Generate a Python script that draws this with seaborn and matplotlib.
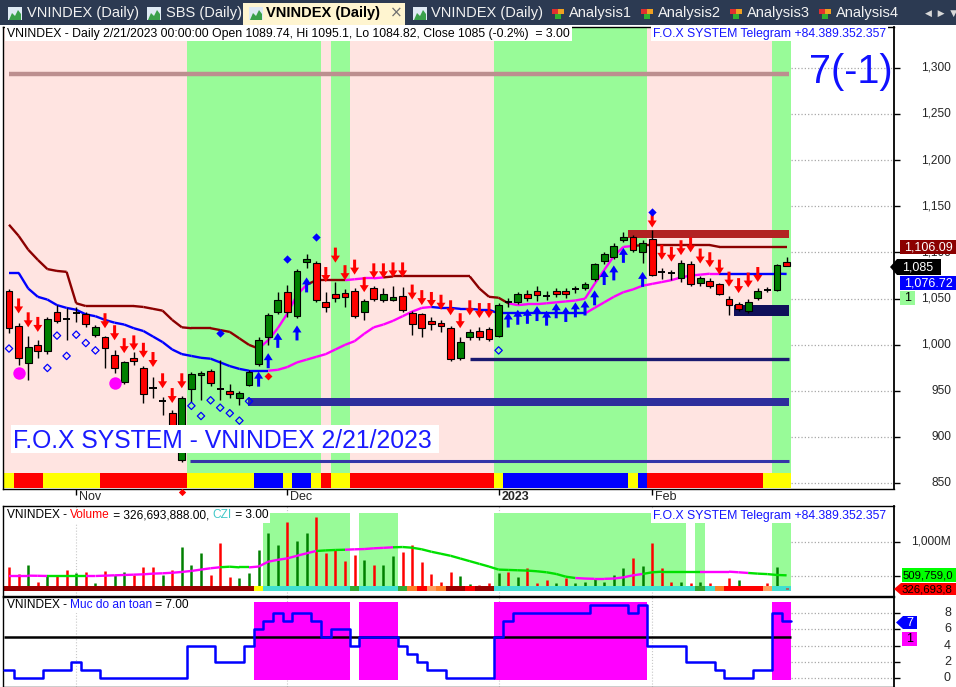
import numpy as np
import pandas as pd
import matplotlib
matplotlib.use("Agg")
import matplotlib.pyplot as plt
import seaborn as sns
from matplotlib.patches import Rectangle, Polygon

# ---- values (82 daily bars, 21 Oct 2022 -> 21 Feb 2023) ----
opens = [1058, 1020, 980, 1000, 993, 1036, 1029, 1035, 1033, 1011,
         1008, 989, 960, 986, 975, 954, 940, 926, 875, 952,
         967, 972, 953, 950, 943, 957, 979, 1009, 1036, 1057,
         1031, 1090, 1089, 1046, 1055, 1056, 1058, 1036, 1062, 1049,
         1049, 1053, 1035, 1033, 1026, 1024, 1018, 986, 1008, 1015,
         1017, 1010, 1046, 1046, 1055, 1058, 1053, 1058, 1058, 1060,
         1062, 1071, 1091, 1095, 1114, 1117, 1100, 1115, 1079, 1078,
         1072, 1087, 1067, 1069, 1066, 1050, 1044, 1037, 1051, 1059,
         1059, 1089.74]
highs = [1060, 1024, 1010, 1005, 1030, 1043, 1040, 1041, 1036, 1021,
         1010, 994, 983, 992, 977, 965, 944, 930, 945, 971,
         972, 974, 984, 958, 950, 973, 1008, 1035, 1057, 1065,
         1082, 1098, 1091, 1057, 1068, 1060, 1061, 1050, 1064, 1062,
         1064, 1063, 1037, 1035, 1030, 1027, 1020, 1008, 1017, 1019,
         1019, 1045, 1051, 1057, 1059, 1064, 1058, 1062, 1061, 1064,
         1068, 1089, 1101, 1110, 1122, 1119, 1113, 1124, 1083, 1081,
         1092, 1091, 1075, 1072, 1067, 1053, 1046, 1050, 1061, 1063,
         1087, 1095.1]
lows = [1013, 978, 962, 986, 990, 1024, 1005, 1025, 1019, 1009,
        975, 970, 958, 978, 937, 943, 924, 898, 873, 938,
        940, 956, 940, 942, 935, 955, 977, 1000, 1033, 1030,
        1029, 1083, 1046, 1036, 1046, 1041, 1029, 1027, 1047, 1046,
        1047, 1036, 1011, 1008, 1016, 1014, 983, 984, 1005, 1005,
        1004, 1008, 1041, 1044, 1048, 1048, 1049, 1052, 1051, 1056,
        1059, 1069, 1088, 1093, 1111, 1101, 1089, 1074, 1071, 1070,
        1068, 1064, 1064, 1062, 1054, 1032, 1037, 1035, 1049, 1057,
        1058, 1084.82]
closes = [1018, 986, 998, 993, 1028, 1026, 1028, 1034, 1023, 1019,
          997, 975, 981, 983, 947, 953, 939, 902, 942, 968,
          970, 959, 952, 947, 948, 971, 1005, 1032, 1049, 1036,
          1080, 1093, 1049, 1041, 1051, 1052, 1031, 1048, 1050, 1055,
          1052, 1038, 1023, 1018, 1023, 1020, 985, 1003, 1014, 1008,
          1006, 1043, 1047, 1055, 1051, 1054, 1053, 1055, 1055, 1061,
          1066, 1088, 1098, 1107, 1117, 1103, 1110, 1076, 1078, 1077,
          1089, 1066, 1072, 1064, 1055, 1043, 1039, 1046, 1058, 1060,
          1086, 1085]

# upper trailing line (M = maroon, P = magenta) and lower trailing line (B = blue)
line_up = [1130, 1118, 1103, 1092, 1082, 1080, 1079, 1045, 1042, 1042,
           1042, 1042, 1042, 1042, 1041, 1039, 1037, 1027, 1019, 1018,
           1018, 1018, 1016, 1014, 1007, 1000, 996, 1005, 1018, 1034,
           1054, 1065, 1070, 1070, 1070, 1070, 1071, 1072, 1072, 1073,
           1074, 1074, 1074, 1074, 1074, 1074, 1074, 1074, 1074, 1061,
           1052, 1051, 1045, 1043, 1044, 1044, 1045, 1046, 1047, 1048,
           1050, 1066, 1081, 1096, 1106, 1107, 1108, 1108, 1108, 1108,
           1108, 1108, 1108, 1108, 1106, 1106, 1106, 1106, 1106, 1106,
           1106, 1106]
line_up_state = "M" * 27 + "P" * 5 + "M" * 4 + "P" * 4 + "M" * 13 + "P" * 13 + "M" * 16
line_dn = [1078, 1078, 1061, 1052, 1049, 1043, 1040, 1038, 1033, 1031,
           1027, 1024, 1022, 1018, 1015, 1009, 1003, 995, 990, 988,
           986, 985, 981, 977, 974, 972, 972, 972, 973, 976,
           981, 984, 987, 990, 995, 1000, 1004, 1012, 1019, 1022,
           1026, 1031, 1036, 1040, 1041, 1040, 1040, 1039, 1039, 1038,
           1038, 1034, 1034, 1034, 1034, 1034, 1034, 1034, 1034, 1034,
           1034, 1040, 1046, 1052, 1057, 1060, 1064, 1066, 1068, 1070,
           1073, 1075, 1076, 1077, 1077, 1077, 1077, 1077, 1077, 1077,
           1077, 1076.72]
line_dn_state = "B" * 28 + "P" * 17 + "B" * 16 + "P" * 14 + "B" * 7

zone_state = "P" * 19 + "G" * 14 + "P" + "G" * 2 + "P" * 15 + "G" * 16 + "P" * 13 + "G" * 2
band_state = ("Y" + "R" * 3 + "Y" * 6 + "R" * 9 + "Y" * 7 + "B" * 3 + "Y" + "B" * 2 + "Y" + "R"
              + "Y" * 2 + "R" * 15 + "Y" + "B" * 13 + "Y" + "B" + "R" * 12 + "Y" * 3)

sell_bars = [1, 2, 3, 10, 11, 12, 13, 14, 15, 16, 17, 18,
             33, 34, 35, 36, 37, 38, 39, 40, 41, 42, 43, 44, 45, 46, 47, 48, 49, 50,
             67, 68, 69, 70, 71, 72, 73, 74, 75, 76, 77, 78]
sell_tips = [1034, 1019, 1014, 1018, 1005, 991, 994, 986, 976, 953, 937, 953,
             1068, 1089, 1070, 1076, 1057, 1072, 1072, 1073, 1073, 1049, 1043, 1041, 1038, 1032,
             1018, 1032, 1029, 1029,
             1127, 1092, 1090, 1097, 1100, 1088, 1084, 1076, 1063, 1056, 1062, 1068]
buy_bars = [26, 27, 28, 30, 31, 52, 53, 54, 55, 56, 57, 58, 59, 60, 61, 62, 63, 64, 66]
buy_tips = [971, 991, 1013, 1021, 1073, 1035, 1038, 1039, 1042, 1037, 1045, 1041, 1046, 1048,
            1059, 1081, 1086, 1105, 1079]
dot_bars, dot_vals = [22, 29, 32, 67], [1013, 1093, 1117, 1144]
red_dot_bars, red_dot_vals = [27], [966]
ring_bars = [0, 4, 5, 6, 7, 8, 9, 19, 20, 21, 22, 23, 24, 25, 51]
ring_vals = [996, 975, 1010, 988, 1011, 1002, 994, 934, 923, 940, 932, 926, 918, 939, 994]
ball_bars, ball_vals = [1, 11], [970, 959]

top_level = 1293
resist_zone = (1115.5, 1124)
support_zone = (1031, 1043)
support_line = 985
support_band = (934, 942.5)
bottom_line = 874.4

month_bars = [7, 29, 51, 67]
month_labels = ["Nov", "Dec", "2023", "Feb"]

# volume panel (millions)
volume = [638, 530, 663, 416, 504, 515, 589, 540, 564, 391,
          574, 515, 564, 515, 638, 638, 515, 589, 935, 663,
          846, 515, 985, 490, 475, 549, 886, 1134, 960, 1300,
          1019, 1134, 1375, 837, 886, 727, 812, 737, 663, 663,
          797, 861, 960, 712, 530, 416, 564, 500, 381, 366,
          391, 540, 564, 481, 614, 391, 441, 391, 466, 391,
          406, 455, 406, 515, 614, 762, 648, 994, 614, 416,
          406, 391, 416, 391, 342, 475, 441, 342, 342, 391,
          638, 326.7]
volume_dir = ("RRGRGRRGRGRGGRRRGRGG" "GRRRGGGGGRGGRRRRRGRG"
              "GRRRRRRGGRRGRGRRRGRG" "GGGGGRGRRRGRGRRRGRGR" "GR")
volume_ma = [505, 505, 505, 503, 500, 500, 500, 500, 500, 500,
             505, 510, 515, 520, 525, 535, 540, 548, 560, 575,
             595, 615, 630, 638, 628, 628, 640, 712, 740, 762,
             800, 837, 871, 880, 886, 890, 896, 900, 911, 918,
             926, 930, 920, 896, 860, 830, 800, 760, 720, 680,
             640, 595, 590, 585, 580, 570, 555, 530, 490, 470,
             462, 458, 458, 462, 480, 510, 530, 555, 564, 564,
             564, 564, 564, 564, 564, 564, 555, 545, 535, 528,
             515, 509.76]
volume_ma_state = "P" * 5 + "G" * 4 + "P" * 14 + "G" * 3 + "P" * 7 + "G" * 3 + "P" * 5 + "G" * 19 + "P" * 7 + "G" * 6 + "P" * 5 + "G" * 4
czi_state = ("D" * 26 + "Y" + "C" * 9 + "G" + "C" * 4 + "G" + "O" + "R" + "L" + "O" + "D" * 2 + "R"
             + "D" * 2 + "C" * 21 + "G" + "C" + "O" + "R" * 4 + "L" + "C" * 2)
vol_zone = [27, 28, 29, 30, 31, 32, 33, 34, 35, 37, 38, 39, 40] + list(range(51, 71)) + [72, 80, 81]

# safety level panel ("Muc do an toan")
safety = [1, 0, 0, 0, 1, 1, 1, 2, 1, 1,
          0, 0, 0, 0, 0, 0, 0, 0, 0, 4,
          4, 4, 2, 2, 2, 4, 6, 7, 8, 7,
          8, 8, 7, 5, 6, 6, 4, 5, 5, 5,
          5, 4, 3, 2, 1, 1, 0, 0, 0, 0,
          0, 5, 7, 8, 8, 8, 8, 8, 8, 8,
          8, 9, 9, 9, 9, 8, 9, 4, 4, 4,
          4, 2, 2, 2, 1, 0, 0, 0, 1, 1,
          8, 7]
safe_zone = list(range(26, 36)) + [37, 38, 39, 40] + list(range(51, 67)) + [80, 81]

n = len(closes)
bars = np.arange(n)

# ---- figure ----
sns.set_style("white")
plt.rcParams['font.family'] = ['Liberation Sans', 'DejaVu Sans']

W, H = 956, 687
fig = plt.figure(figsize=(W / 100, H / 100), dpi=100)
renderer = fig.canvas.get_renderer()


def fx(x):
    return x / W


def fy(y):
    return 1 - y / H


def frect(x0, y0, x1, y1, color, z=3):
    fig.add_artist(Rectangle((fx(x0), fy(y1)), (x1 - x0) / W, (y1 - y0) / H, transform=fig.transFigure,
                             facecolor=color, edgecolor='none', zorder=z))


def ftag(xtip, x1, y0, y1, color, z=6):
    ym = (y0 + y1) / 2
    pts = [(xtip, ym), (xtip + 7, y0), (x1, y0), (x1, y1), (xtip + 7, y1)]
    fig.add_artist(Polygon([(fx(a), fy(b)) for a, b in pts], closed=True, transform=fig.transFigure,
                           facecolor=color, edgecolor='none', zorder=z))


def ftext(x, y, s, **kw):
    kw.setdefault('va', 'center')
    kw.setdefault('zorder', 7)
    return fig.text(fx(x), fy(y), s, **kw)


def text_w(s, size, weight='normal'):
    t = fig.text(0, 0, '|' + s + '|', fontsize=size, fontweight=weight)
    w1 = t.get_window_extent(renderer).width
    t.set_text('||')
    w0 = t.get_window_extent(renderer).width
    t.remove()
    return w1 - w0


def header(x, y, parts, size=8.8):
    total = text_w(''.join(p for p, _ in parts), size)
    frect(x - 2, y - 7, x + total + 2, y + 7, 'white', z=3)
    for s, c in parts:
        ftext(x, y, s, color=c, fontsize=size, ha='left', zorder=4)
        x += text_w(s, size)


def runs(flags):
    out, start = [], 0
    for i in range(1, len(flags) + 1):
        if i == len(flags) or flags[i] != flags[start]:
            out.append((start, i - 1, flags[start]))
            start = i
    return out


XL = (-0.625, 92.1875)
ax = fig.add_axes([fx(3), fy(489), 891 / W, 462 / H])
axv = fig.add_axes([fx(3), fy(596), 891 / W, 90 / H])
axb = fig.add_axes([fx(3), 0, 891 / W, 90 / H])
for a in (ax, axv, axb):
    a.set_xlim(XL)
    a.set_facecolor('white')
    for sp in a.spines.values():
        sp.set_color('black')
        sp.set_linewidth(1)
    a.spines['right'].set_linewidth(1.3)
    a.tick_params(axis='y', left=False, right=True, labelleft=False, labelright=False,
                  length=4, width=1, direction='out', color='black')
    a.tick_params(axis='x', bottom=False, labelbottom=False)

# ---------------- price panel ----------------
PY0, PY1 = 844, 1344
ax.set_ylim(PY0, PY1)
ax.set_yticks(range(850, 1301, 50))
ax.set_xticks(month_bars)
ax.tick_params(axis='x', bottom=True, length=4, width=1, direction='out', color='black')
band_top = (861.7 - PY0) / (PY1 - PY0)

zone_col = {'P': '#ffe4e1', 'G': '#98fb98'}
for s, e, f in runs(zone_state):
    ax.axvspan(s - 0.5, e + 0.5, ymin=band_top, ymax=1, color=zone_col[f], lw=0, zorder=0)
band_col = {'R': '#ff0000', 'Y': '#ffff00', 'B': '#0000ff'}
for s, e, f in runs(band_state):
    ax.axvspan(s - 0.5, e + 0.5, ymin=0.002, ymax=band_top, color=band_col[f], lw=0, zorder=0)

ax.hlines(range(850, 1301, 50), n - 0.5, XL[1], colors='#a8a8a8', linestyles=':', lw=0.9, zorder=0.5)

ax.hlines(top_level, 0, n - 0.7, colors='#bc8f8f', lw=3.2, zorder=1)
ax.add_patch(Rectangle((64.5, resist_zone[0]), n - 0.7 - 64.5, resist_zone[1] - resist_zone[0],
                       facecolor='#b22222', edgecolor='none', zorder=1))
ax.add_patch(Rectangle((75.5, support_zone[0]), n - 0.7 - 75.5, support_zone[1] - support_zone[0],
                       facecolor='#10105a', edgecolor='none', zorder=1))
ax.hlines(support_line, 48, n - 0.7, colors='#1a1a70', lw=2.4, zorder=1)
ax.add_patch(Rectangle((24.9, support_band[0]), n - 0.7 - 24.9, support_band[1] - support_band[0],
                       facecolor='#2e2e9c', edgecolor='none', zorder=1))
ax.hlines(bottom_line, 18.9, n - 0.7, colors='#3535a8', lw=2.2, zorder=1)

line_col = {'M': '#8b0000', 'P': '#ff00ff', 'B': '#0000ff'}
for vals, state in ((line_up, line_up_state), (line_dn, line_dn_state)):
    for i in range(1, n):
        ax.plot([i - 1, i], [vals[i - 1], vals[i]], color=line_col[state[i]], lw=1.7,
                solid_capstyle='butt', zorder=2)

# candles
for i in bars:
    o, h, l, c = opens[i], highs[i], lows[i], closes[i]
    ax.vlines(i, l, h, colors='black', lw=1, zorder=3)
    if abs(c - o) < 1.5:
        ax.hlines((o + c) / 2, i - 0.38, i + 0.38, colors='black', lw=1.4, zorder=4)
    else:
        ax.add_patch(Rectangle((i - 0.36, min(o, c)), 0.72, abs(c - o),
                               facecolor='#ff0000' if c < o else '#008000',
                               edgecolor='black', lw=0.8, zorder=4))

# arrows
PXX, PXY = 1 / 9.6, (PY1 - PY0) / 462
arrow_shape = [(0, 0), (-4.5, 7), (-1.5, 7), (-1.5, 15), (1.5, 15), (1.5, 7), (4.5, 7)]
for i, t in zip(sell_bars, sell_tips):
    ax.add_patch(Polygon([(i + dx * PXX, t + dy * PXY) for dx, dy in arrow_shape],
                         facecolor='#ff0000', edgecolor='none', zorder=5))
for i, t in zip(buy_bars, buy_tips):
    ax.add_patch(Polygon([(i + dx * PXX, t - dy * PXY) for dx, dy in arrow_shape],
                         facecolor='#0000ff', edgecolor='none', zorder=5))
ax.scatter(dot_bars, dot_vals, marker='D', s=18, color='#0000ff', zorder=5, linewidths=0)
ax.scatter(red_dot_bars, red_dot_vals, marker='D', s=16, color='#ff0000', zorder=5, linewidths=0)
ax.scatter(ring_bars, ring_vals, marker='D', s=14, facecolors='none', edgecolors='#0000ff',
           linewidths=0.9, zorder=5)
ax.scatter(ball_bars, ball_vals, marker='o', s=80, color='#ff00ff', zorder=5, linewidths=0)
ax.scatter([18], [840.8], marker='D', s=14, color='#ff0000', zorder=6, linewidths=0, clip_on=False)

for b, lab in zip(month_bars, month_labels):
    ax.text(b + 0.3, -0.0173, lab, transform=ax.get_xaxis_transform(), fontsize=9, va='center',
            ha='left', fontweight='bold' if lab == '2023' else 'normal')

# ---------------- volume panel ----------------
VY0, VY1 = 203, 1539
axv.set_ylim(VY0, VY1)
axv.set_yticks([500, 1000])
axv.vlines(month_bars, VY0, VY1, colors='#c8c8c8', linestyles=':', lw=0.8, zorder=0.3)
axv.hlines([500, 1000], n - 0.5, XL[1], colors='#a8a8a8', linestyles=':', lw=0.9, zorder=0.5)
zone_flags = ''.join('G' if i in vol_zone else '-' for i in bars)
for s, e, f in runs(zone_flags):
    if f == 'G':
        axv.add_patch(Rectangle((s - 0.5, 352), e - s + 1, 1439 - 352, facecolor='#98fb98',
                                edgecolor='none', zorder=1))
vol_col = {'R': '#ff0000', 'G': '#008000'}
axv.vlines(bars, 352, volume, colors=[vol_col[d] for d in volume_dir], lw=1.8, zorder=2)
czi_col = {'D': '#990000', 'Y': '#ffff00', 'C': '#40e0d0', 'G': '#33aa33', 'O': '#ff7f27',
           'R': '#ff0000', 'L': '#ffa060'}
for s, e, f in runs(czi_state):
    axv.add_patch(Rectangle((s - 0.5, 277), e - s + 1, 352 - 277, facecolor=czi_col[f],
                            edgecolor='none', zorder=2.5))
axv.vlines([n - 1], 300, volume[-1], colors='#ff0000', lw=2.2, zorder=2.6)
ma_col = {'P': '#ff00ff', 'G': '#00e000'}
for i in range(1, n):
    axv.plot([i - 1, i], [volume_ma[i - 1], volume_ma[i]], color=ma_col[volume_ma_state[i]],
             lw=1.7, solid_capstyle='butt', zorder=3)

# ---------------- safety panel ----------------
BY0, BY1 = -1.1, 9.97
axb.set_ylim(BY0, BY1)
axb.set_yticks([0, 2, 4, 6, 8])
axb.vlines(month_bars, BY0, BY1, colors='#c8c8c8', linestyles=':', lw=0.8, zorder=0.3)
axb.hlines([0, 2, 4, 6, 8], n - 0.5, XL[1], colors='#a8a8a8', linestyles=':', lw=0.9, zorder=0.5)
safe_flags = ''.join('M' if i in safe_zone else '-' for i in bars)
for s, e, f in runs(safe_flags):
    if f == 'M':
        axb.add_patch(Rectangle((s - 0.5, -0.3), e - s + 1, 9.65, facecolor='#ff00ff',
                                edgecolor='none', zorder=1))
axb.hlines(5, -0.5, n - 0.5, colors='black', lw=1.8, zorder=2)
step = pd.DataFrame({'x': list(bars - 0.5) + [n - 0.5], 'level': safety + [safety[-1]]})
sns.lineplot(data=step, x='x', y='level', ax=axb, drawstyle='steps-post', color='#0000ff', lw=1.8,
             estimator=None, sort=False, legend=False, zorder=3)
axb.set_xlabel('')
axb.set_ylabel('')
axb.set_xlim(XL)
axb.set_ylim(BY0, BY1)

# ---------------- right-hand labels ----------------
for v in range(850, 1301, 50):
    ftext(951, 489 - (v - PY0) / PXY, f"{v:,}", fontsize=8.6, ha='right', zorder=5)
frect(900, 240, 956, 254, '#8b0000', z=6)
ftext(928, 247, "1,106.09", color='white', fontsize=9, ha='center')
ftag(890, 941, 259, 275, 'black')
ftext(918, 267, "1,085", color='white', fontsize=9, ha='center')
frect(900, 276, 956, 290, '#0000ff', z=6)
ftext(928, 283, "1,076.72", color='white', fontsize=9, ha='center')
frect(900, 291, 915, 305, '#98fb98', z=6)
ftext(907.5, 298, "1", color='black', fontsize=9, ha='center')
ftext(809, 83, "7(-1)", color='#1010ff', fontsize=28.5, ha='left', va='baseline', zorder=5)

ftext(951, 542, "1,000M", fontsize=8.6, ha='right', zorder=5)
frect(902, 568, 956, 582, '#00ff00', z=6)
ftext(903, 575, "509,759,0", color='black', fontsize=8.2, ha='left')
ftag(894, 956, 583, 595, '#ff0000')
ftext(902, 589, "326,693,8", color='black', fontsize=8.2, ha='left')

for v in [0, 2, 4, 6, 8]:
    ftext(951, 687 - (v - BY0) * 90 / (BY1 - BY0), str(v), fontsize=9, ha='right', zorder=5)
ftag(896, 917, 616, 629, '#0000ff')
ftext(910, 622.5, "7", color='white', fontsize=9, ha='center')
frect(902, 632, 917, 646, '#ff00ff', z=6)
ftext(909.5, 639, "1", color='black', fontsize=9, ha='center')

# ---------------- panel headers ----------------
header(7, 33.5, [("VNINDEX - Daily 2/21/2023 00:00:00 Open 1089.74, Hi 1095.1, Lo 1084.82, "
                  "Close 1085 (-0.2%)  = 3.00", 'black')])
header(653, 33.5, [("F.O.X SYSTEM Telegram +84.389.352.357", '#1414ff')])
header(7, 515.5, [("VNINDEX - ", 'black'), ("Volume", '#ff0000'), (" = 326,693,888.00, ", 'black'),
                  ("CZI", '#40c8c8'), (" = 3.00", 'black')], size=8.6)
header(653, 515.5, [("F.O.X SYSTEM Telegram +84.389.352.357", '#1414ff')])
header(7, 605.5, [("VNINDEX - ", 'black'), ("Muc do an toan", '#1414ff'), (" = 7.00", 'black')], size=8.6)

frect(11, 425, 439, 453, 'white', z=3)
ftext(13, 447.5, "F.O.X SYSTEM - VNINDEX 2/21/2023", color='#1a1aff', fontsize=17.8,
      ha='left', va='baseline', zorder=4)

# ---------------- tab strip ----------------
frect(0, 0, W, 25, '#2c3a52', z=1)
frect(243, 3, 405, 25, '#fff5d0', z=2)


def chart_icon(x):
    frect(x, 7, x + 14, 20, '#dfeaf4', z=3)
    pts = [(x + 1, 20), (x + 4, 13), (x + 7, 16), (x + 10, 10), (x + 13, 14), (x + 13, 20)]
    fig.add_artist(Polygon([(fx(a), fy(b)) for a, b in pts], closed=True, transform=fig.transFigure,
                           facecolor='#3aa04a', edgecolor='none', zorder=4))


def analysis_icon(x):
    for dx, dy, c in ((0, 9, '#e03030'), (6, 9, '#f0a020'), (3, 14, '#30b030')):
        frect(x + dx, dy, x + dx + 6, dy + 5, c, z=3)


for ix, tx, lab in ((8, 27, "VNINDEX (Daily)"), (147, 166, "SBS (Daily)"), (413, 431, "VNINDEX (Daily)")):
    chart_icon(ix)
    ftext(tx, 13, lab, color='#f2f2f2', fontsize=10.5, ha='left')
chart_icon(249)
ftext(266, 13, "VNINDEX (Daily)", color='black', fontsize=10.5, fontweight='bold', ha='left')
ftext(396, 13, "×", color='#707070', fontsize=11, ha='center', family=['DejaVu Sans'])
for ix, tx, lab in ((552, 569, "Analysis1"), (641, 658, "Analysis2"), (730, 747, "Analysis3"),
                    (819, 836, "Analysis4")):
    analysis_icon(ix)
    ftext(tx, 13, lab, color='#f2f2f2', fontsize=10.5, ha='left')
ftext(925, 13, "◀  ▶  ▼", color='#d8d8d8', fontsize=6.5, ha='left', family=['DejaVu Sans'])

fig.savefig("out.png", dpi=100)
